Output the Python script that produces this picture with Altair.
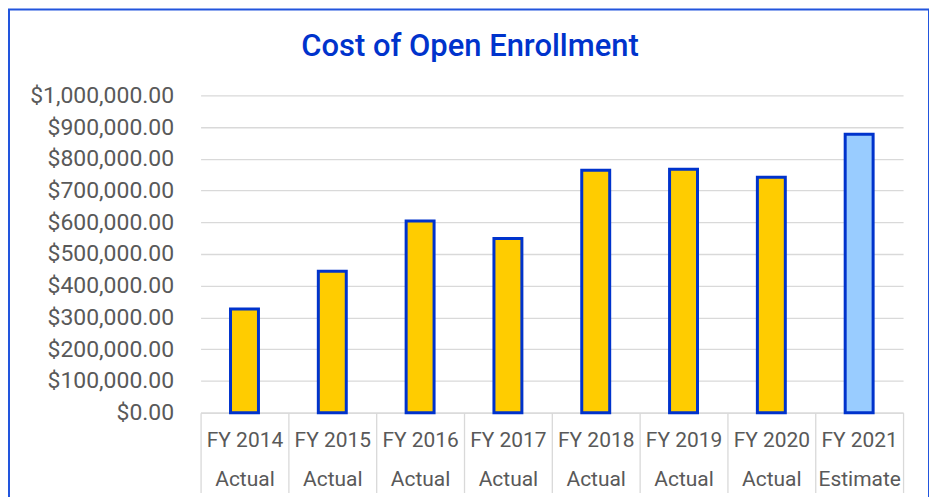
import altair as alt
import pandas as pd

title_text = "Cost of Open Enrollment"
years = ["FY 2014", "FY 2015", "FY 2016", "FY 2017", "FY 2018", "FY 2019", "FY 2020", "FY 2021"]
kinds = ["Actual", "Actual", "Actual", "Actual", "Actual", "Actual", "Actual", "Estimate"]
costs = [327000, 446000, 604000, 549000, 764000, 767000, 742000, 877000]
y_ticks = [0, 100000, 200000, 300000, 400000, 500000, 600000, 700000, 800000, 900000, 1000000]

df = pd.DataFrame({
    "label": [f"{y}|{k}" for y, k in zip(years, kinds)],
    "kind": kinds,
    "cost": costs,
})

FONT = "Roboto"
GREY = "#595959"
GRID = "#d9d9d9"
BLUE = "#0033CC"

bars = alt.Chart(df).mark_bar(size=28, stroke=BLUE, strokeWidth=3).encode(
    x=alt.X(
        "label:N",
        sort=None,
        scale=alt.Scale(paddingInner=0, paddingOuter=0),
        axis=alt.Axis(
            title=None,
            labelExpr="split(datum.label, '|')",
            labelFont=FONT,
            labelFontSize=21,
            labelColor=GREY,
            labelLineHeight=39,
            labelBaseline="middle",
            labelPadding=-52,
            labelAngle=0,
            tickBand="extent",
            tickSize=80,
            tickColor=GRID,
            tickWidth=1.3,
            domainColor=GRID,
            domainWidth=1.3,
            grid=False,
        ),
    ),
    y=alt.Y(
        "cost:Q",
        scale=alt.Scale(domain=[0, 1000000], nice=False),
        axis=alt.Axis(
            title=None,
            values=y_ticks,
            format="$,.2f",
            labelFont=FONT,
            labelFontSize=23,
            labelColor=GREY,
            labelPadding=27,
            ticks=False,
            domain=False,
            gridColor=GRID,
            gridWidth=1.3,
        ),
    ),
    color=alt.Color(
        "kind:N",
        scale=alt.Scale(domain=["Actual", "Estimate"], range=["#FFCC00", "#99CCFF"]),
        legend=None,
    ),
)

one_row = alt.Data(values=[{"t": title_text}])

frame = alt.Chart(one_row).mark_rect(
    fill=None, stroke="#2255DD", strokeWidth=2
).encode(
    x=alt.value(-192), x2=alt.value(730), y=alt.value(-86), y2=alt.value(470)
)

title = alt.Chart(one_row).mark_text(
    font=FONT, fontSize=31, fontWeight=500, color=BLUE, align="center", baseline="middle"
).encode(
    text="t:N", x=alt.value(270), y=alt.value(-48)
)

chart = alt.layer(frame, bars, title).properties(
    width=704,
    height=318,
    autosize=alt.AutoSizeParams(type="none"),
    padding={"left": 193, "top": 87, "right": 26, "bottom": 84},
).configure_view(stroke=None)

chart.save("out.html", embed_options={"renderer": "svg", "actions": False})
